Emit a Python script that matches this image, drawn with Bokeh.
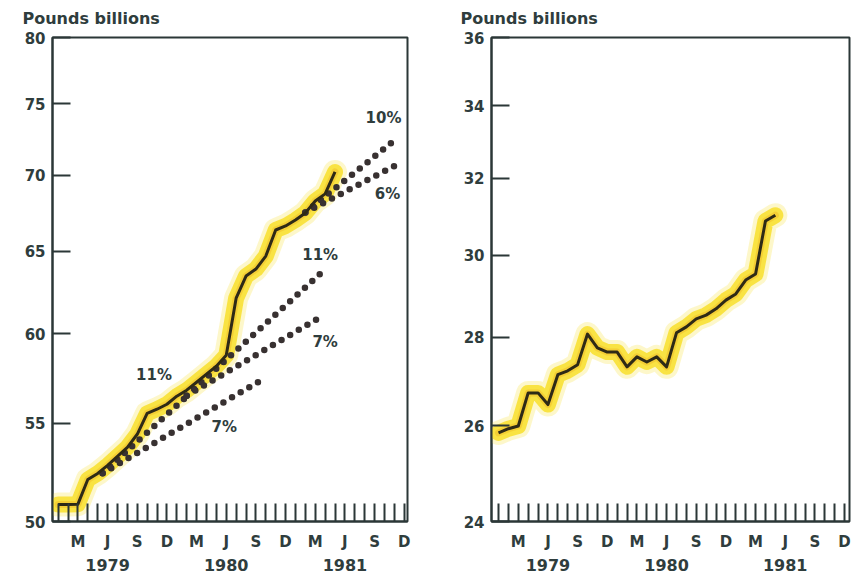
from bokeh.plotting import figure
from bokeh.models import Range1d, FixedTicker, LinearAxis, PrintfTickFormatter
from bokeh.layouts import row
from bokeh.embed import file_html
from bokeh.resources import INLINE
from bokeh.core.properties import value

# ---- data (month index: Jan 1979 = 1 ... Dec 1981 = 36) ----
months = list(range(1, 30))  # Jan 1979 .. May 1981
left_values = [50.83, 50.83, 50.85, 52.08, 52.39, 52.80, 53.26, 53.73, 54.42,
               55.54, 55.76, 56.03, 56.47, 56.80, 57.24, 57.69, 58.14, 58.76,
               62.11, 63.46, 63.89, 64.70, 66.36, 66.62, 67.01, 67.47, 68.26,
               68.73, 70.21]
right_values = [25.85, 25.94, 26.00, 26.73, 26.73, 26.47, 27.14, 27.23, 27.37,
                28.08, 27.76, 27.66, 27.66, 27.32, 27.55, 27.43, 27.55, 27.32,
                28.11, 28.25, 28.44, 28.53, 28.68, 28.89, 29.04, 29.38, 29.53,
                30.87, 31.02]

tick_months = list(range(1, 37))
quarter_months = [3, 6, 9, 12, 15, 18, 21, 24, 27, 30, 33, 36]
quarter_labels = ["M", "J", "S", "D"] * 3
year_months = [6, 18, 30]
year_labels = ["1979", "1980", "1981"]

left_yticks = [50, 55, 60, 65, 70, 75, 80]
right_yticks = [24, 26, 28, 30, 32, 34, 36]

# target ranges (dotted): start month/value, end month/value
cone_x0 = [5.5, 5.5, 14, 14, 26, 26]
cone_y0 = [52.4, 52.4, 56.5, 56.5, 67.5, 67.5]
cone_x1 = [14, 22, 27.7, 27.3, 35.2, 35.8]
cone_y1 = [56.45, 57.5, 63.7, 60.9, 72.5, 70.9]

cone_label_text = ["11%", "7%", "11%", "7%", "10%", "6%"]
cone_label_x = [10.7, 17.8, 27.5, 28.0, 33.9, 34.3]
cone_label_y = [57.67, 54.78, 64.79, 59.55, 73.95, 68.75]

FRAME = "#2b3737"
TEXT = "#2f3d3d"
LINE = "#2e2a16"
DOT = "#383131"
FONT = "DejaVu Sans"
H = 575


def make_panel(vals, yr, yticks, xr, width, mbl, mbr, title_offset):
    p = figure(width=width, height=H, x_range=Range1d(*xr), y_range=Range1d(*yr),
               y_axis_type="log", output_backend="svg", toolbar_location=None,
               min_border_left=mbl, min_border_right=mbr, min_border_top=37,
               min_border_bottom=54, title="Pounds billions")
    p.title.text_font = FONT
    p.title.text_font_style = "bold"
    p.title.text_font_size = "16px"
    p.title.text_color = TEXT
    p.title.align = "left"
    p.title.vertical_align = "top"
    p.title.offset = title_offset
    p.title.standoff = 15
    p.grid.grid_line_color = None
    p.outline_line_color = FRAME
    p.outline_line_width = 2
    p.outline_line_alpha = 1
    p.background_fill_color = "white"
    p.border_fill_color = "white"

    xa = p.xaxis[0]
    ya = p.yaxis[0]
    ya.ticker = FixedTicker(ticks=yticks)
    ya.formatter = PrintfTickFormatter(format="%d")
    ya.minor_tick_line_color = None
    xa.ticker = FixedTicker(ticks=tick_months)
    ov = {m: "" for m in tick_months}
    for m, lab in zip(quarter_months, quarter_labels):
        ov[m] = lab
    xa.major_label_overrides = ov
    for ax in (xa, ya):
        ax.axis_line_color = FRAME
        ax.axis_line_width = 2
        ax.major_tick_line_color = FRAME
        ax.major_tick_line_width = 2
        ax.major_tick_in = 18
        ax.major_tick_out = 0
        ax.major_label_text_font = FONT
        ax.major_label_text_font_style = "bold"
        ax.major_label_text_font_size = "15px"
        ax.major_label_text_color = TEXT
    ya.major_label_standoff = 7
    xa.major_label_standoff = 11

    yax = LinearAxis(ticker=FixedTicker(ticks=year_months),
                     major_label_overrides={m: l for m, l in zip(year_months, year_labels)})
    yax.axis_line_color = None
    yax.major_tick_line_color = None
    yax.major_tick_in = 0
    yax.major_tick_out = 0
    yax.major_label_standoff = 5
    yax.major_label_text_font = FONT
    yax.major_label_text_font_style = "bold"
    yax.major_label_text_font_size = "16px"
    yax.major_label_text_color = TEXT
    p.add_layout(yax, "below")

    # highlighter glow
    p.line(months, vals, line_color="#fbee8a", line_width=24, line_alpha=0.45,
           line_join="round", line_cap="round")
    p.line(months, vals, line_color="#f8df2c", line_width=16, line_alpha=0.85,
           line_join="round", line_cap="round")
    p.line(months, vals, line_color="#f1c02a", line_width=7, line_alpha=0.55,
           line_join="round", line_cap="round")
    return p


p1 = make_panel(left_values, (50, 80), left_yticks, (0.43, 36.33), 426, 52, 19, -30)
p2 = make_panel(right_values, (24, 36), right_yticks, (0.29, 36.5), 434, 65, 11, -31)

for x0, y0, x1, y1 in zip(cone_x0, cone_y0, cone_x1, cone_y1):
    p1.line([x0, x1], [y0, y1], line_color=DOT, line_width=6.5, line_dash="0 10",
            line_cap="round")

p1.text(x=cone_label_x, y=cone_label_y, text=cone_label_text,
        text_font=value(FONT), text_font_style="bold", text_font_size="15px",
        text_color=TEXT, text_align="center", text_baseline="middle")

for p, vals in ((p1, left_values), (p2, right_values)):
    p.line(months, vals, line_color=LINE, line_width=3, line_join="round")

layout = row(p1, p2)
open("out.html", "w").write(file_html(layout, INLINE))
